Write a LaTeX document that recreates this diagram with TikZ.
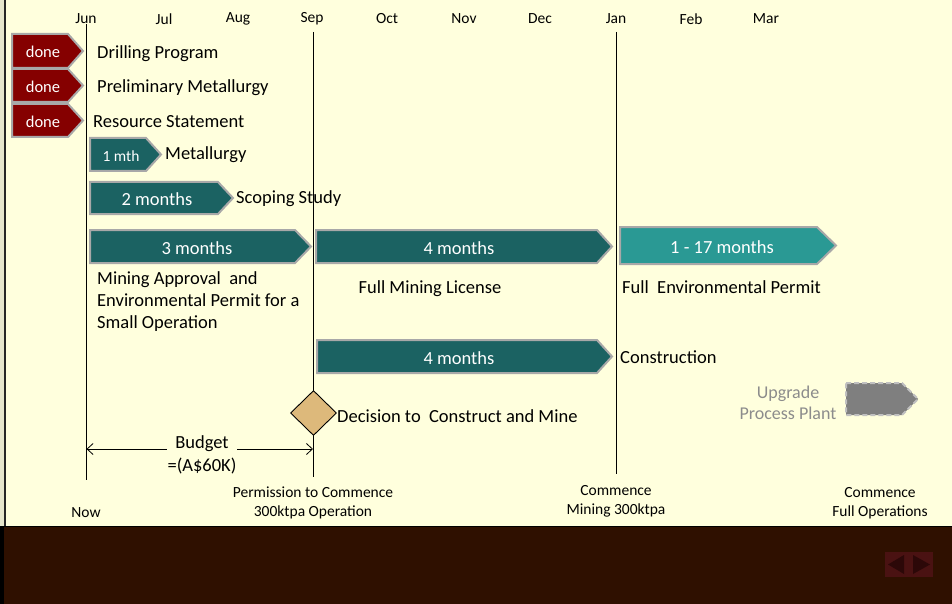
\documentclass[tikz,border=0pt]{standalone}
\usepackage{fontspec}
\setmainfont{Carlito}
\usetikzlibrary{shapes.geometric,arrows.meta}
\definecolor{bgyel}{HTML}{FFFFDD}
\definecolor{band}{HTML}{2F1000}
\definecolor{edgegray}{HTML}{E6E6CC}
\definecolor{donered}{HTML}{850000}
\definecolor{tealdark}{HTML}{1B6262}
\definecolor{teallight}{HTML}{2A9994}
\definecolor{bordgray}{HTML}{A8A8A8}
\definecolor{tan}{HTML}{DDB97B}
\definecolor{upgray}{HTML}{7F7F7F}
\definecolor{updash}{HTML}{C0C0C0}
\definecolor{uptext}{HTML}{8C8C8C}
\definecolor{navbox}{HTML}{4A1212}
\definecolor{navtri}{HTML}{2C0808}
\newcommand\chevshape[6]{\filldraw[#1] (#2,#5) -- (#3,#5) -- (#4,{(#5+#6)/2}) -- (#3,#6) -- (#2,#6) -- cycle;}
\begin{document}
\begin{tikzpicture}[x=1pt,y=-1pt,
  lbl/.style={font=\fontsize{18.5}{22}\selectfont, inner sep=0pt, anchor=west, align=left, yshift=-1.5pt},
  wlbl/.style={font=\fontsize{18.5}{22}\selectfont, inner sep=0pt, text=white, yshift=-1pt},
  mon/.style={font=\fontsize{15.5}{18}\selectfont, inner sep=0pt, yshift=-2pt},
  bot/.style={font=\fontsize{15.5}{19}\selectfont, inner sep=0pt, align=center, yshift=-1.5pt},
  chevdone/.style={fill=donered, draw=bordgray, line width=2pt},
  chevteal/.style={fill=tealdark, draw=bordgray, line width=2pt},
  chevlight/.style={fill=teallight, draw=bordgray, line width=2pt},
  chevgray/.style={fill=upgray, draw=updash, line width=2pt, dash pattern=on 5pt off 3pt},
  vline/.style={draw=black, line width=0.9pt}]
\useasboundingbox (0,0) rectangle (952,604);
% background
\fill[bgyel] (0,0) rectangle (952,526);
\fill[band] (0,526) rectangle (952,604);
\fill[black] (0,526) rectangle (4,604);
\fill[edgegray] (0,0) rectangle (4,526);
\draw[line width=2pt, black!85] (5,0) -- (5,526);
\draw[line width=1pt, black] (0,526) -- (952,526);
% month labels
\node[mon] (jun) at (86,17) {Jun};
\node[mon] (jul) at (164,17) {Jul};
\node[mon] (aug) at (238,17) {Aug};
\node[mon] (sep) at (312,17) {Sep};
\node[mon] (oct) at (387,17) {Oct};
\node[mon] (nov) at (464,17) {Nov};
\node[mon] (dec) at (540,17) {Dec};
\node[mon] (jan) at (616,17) {Jan};
\node[mon] (feb) at (691,17) {Feb};
\node[mon] (mar) at (766,17) {Mar};
% vertical timeline lines
\coordinate (junT) at (86.5,24); \coordinate (junB) at (86.5,480);
\coordinate (sepT) at (313,32); \coordinate (sepB) at (313,477);
\coordinate (janT) at (616,32); \coordinate (janB) at (616,474);
\draw[vline] (junT) -- (junB);
\draw[vline] (sepT) -- (sepB);
\draw[vline] (janT) -- (janB);
% done rows
\chevshape{chevdone}{12}{68}{83}{34}{68}
\chevshape{chevdone}{12}{68}{83}{69}{102}
\chevshape{chevdone}{12}{68}{83}{104}{137}
\node[wlbl, font=\fontsize{16.5}{20}\selectfont] (d1) at (43,51) {done};
\node[wlbl, font=\fontsize{16.5}{20}\selectfont] (d2) at (43,86) {done};
\node[wlbl, font=\fontsize{16.5}{20}\selectfont] (d3) at (43,121) {done};
\node[lbl] (drill) at (97,52) {Drilling Program};
\node[lbl] (prelim) at (97,86) {Preliminary Metallurgy};
\node[lbl] (resource) at (93,120) {Resource Statement};
% 1 mth
\chevshape{chevteal}{90}{146}{161}{138}{171}
\node[wlbl, font=\fontsize{15.5}{18}\selectfont] (m1) at (121,155) {1 mth};
\node[lbl] (metall) at (165,153) {Metallurgy};
% 2 months
\chevshape{chevteal}{90}{218}{233}{182}{214}
\node[wlbl] (m2) at (157,198) {2 months};
\node[lbl] (scoping) at (236,197) {Scoping Study};
% 3 months
\chevshape{chevteal}{90}{295}{311}{230}{263}
\node[wlbl] (m3) at (197,247) {3 months};
\node[lbl, anchor=north west] (mining) at (97,270) {Mining Approval~ and\\Environmental Permit for a\\Small Operation};
% 4 months licence
\chevshape{chevteal}{316}{597}{612}{230}{263}
\node[wlbl] (m4) at (459,247) {4 months};
\node[lbl, anchor=center] (fml) at (430,287) {Full Mining License};
% 1-17 months
\chevshape{chevlight}{620}{817}{836}{227}{264}
\node[wlbl] (m17) at (722,246) {1 - 17 months};
\node[lbl] (fep) at (622,286) {Full~ Environmental Permit};
% construction
\chevshape{chevteal}{317}{597}{612}{340}{373}
\node[wlbl] (mc) at (459,357) {4 months};
\node[lbl] (constr) at (620,356) {Construction};
% decision diamond
\node[diamond, draw=black, fill=tan, line width=0.9pt, minimum width=46pt, minimum height=45pt, inner sep=0pt] (decis) at (313.5,413) {};
\node[lbl] (decl) at (337,415) {Decision to~ Construct and Mine};
% upgrade
\node[lbl, anchor=center, text=uptext, align=center, font=\fontsize{18}{21}\selectfont] (upg) at (788,401) {Upgrade\\Process Plant};
\chevshape{chevgray}{846}{902}{918}{383}{415}
% budget
\coordinate (bl) at (86.5,449);
\coordinate (br) at (313,449);
\draw[line width=0.8pt, {Straight Barb[length=6pt,width=11pt]}-{Straight Barb[length=6pt,width=11pt]}] (bl) -- (br);
\node[lbl, anchor=center, fill=bgyel, inner xsep=8pt, inner ysep=1pt] (budget) at (202,442) {Budget};
\node[lbl, anchor=center] (budval) at (202,465) {=(A\$60K)};
% bottom labels
\node[bot] (now) at (86,511) {Now};
\node[bot] (perm) at (313,501) {Permission to Commence\\300ktpa Operation};
\node[bot] (cmine) at (616,499.5) {Commence\\Mining 300ktpa};
\node[bot] (cfull) at (880,501.5) {Commence\\Full Operations};
% nav button
\fill[navbox] (885,552) rectangle (933,577);
\fill[navtri] (888,564.5) -- (904,555) -- (904,574) -- cycle;
\fill[navtri] (930,564.5) -- (913,555) -- (913,574) -- cycle;
\end{tikzpicture}
\end{document}
